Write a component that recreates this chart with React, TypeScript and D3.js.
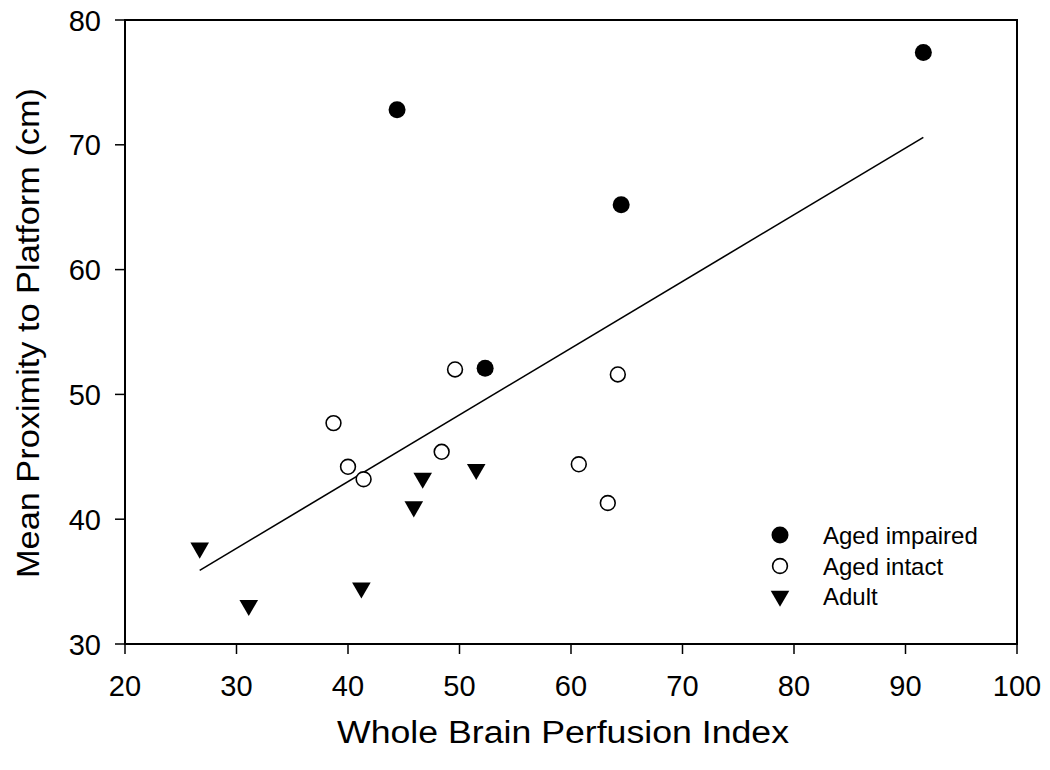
import React from "react";
import * as d3 from "d3";

const agedImpairedX = [44.4, 91.6, 64.5, 52.3];
const agedImpairedY = [72.8, 77.4, 65.2, 52.1];

const agedIntactX = [49.6, 38.7, 40.0, 41.4, 48.4, 64.2, 60.7, 63.3];
const agedIntactY = [52.0, 47.7, 44.2, 43.2, 45.4, 51.6, 44.4, 41.3];

const adultX = [26.7, 31.1, 41.2, 45.9, 46.7, 51.5];
const adultY = [37.7, 33.1, 34.5, 41.0, 43.3, 44.0];

const fitX = [26.7, 91.6];
const fitY = [35.9, 70.6];

const xTicks = [20, 30, 40, 50, 60, 70, 80, 90, 100];
const yTicks = [30, 40, 50, 60, 70, 80];

const legendLabels = ["Aged impaired", "Aged intact", "Adult"];

const W = 1050;
const H = 770;
const L = 125, R = 1017, T = 20, B = 644;
const FONT = "Arial, 'Liberation Sans', Helvetica, sans-serif";

export default function App() {
  const x = d3.scaleLinear().domain([20, 100]).range([L, R]);
  const y = d3.scaleLinear().domain([30, 80]).range([B, T]);
  const tri = d3.symbol().type(d3.symbolTriangle).size(150)() as string;
  const line = d3
    .line<number>()
    .x((d) => x(d))
    .y((_, i) => y(fitY[i]));

  const legX = 780;
  const legY = [535, 566, 596];

  return (
    <svg
      width={W}
      height={H}
      style={{ position: "absolute", left: 0, top: 0, background: "#fff" }}
      fontFamily={FONT}
    >
      <rect x={0} y={0} width={W} height={H} fill="#fff" />
      {/* frame */}
      <rect x={L} y={T} width={R - L} height={B - T} fill="none" stroke="#000" strokeWidth={2} />
      {/* x ticks */}
      {xTicks.map((t) => (
        <g key={"xt" + t}>
          <line x1={x(t)} x2={x(t)} y1={B} y2={B + 10} stroke="#000" strokeWidth={1.5} />
          <text x={x(t)} y={B + 52} textAnchor="middle" fontSize={29}>
            {t}
          </text>
        </g>
      ))}
      {yTicks.map((t) => (
        <g key={"yt" + t}>
          <line x1={L - 10} x2={L} y1={y(t)} y2={y(t)} stroke="#000" strokeWidth={1.5} />
          <text x={L - 24} y={y(t) + 10.5} textAnchor="end" fontSize={29}>
            {t}
          </text>
        </g>
      ))}
      <text
        x={(L + R) / 2 - 8}
        y={743}
        textAnchor="middle"
        fontSize={31}
        textLength={452}
        lengthAdjust="spacingAndGlyphs"
      >
        Whole Brain Perfusion Index
      </text>
      <text
        transform={`translate(39, ${(T + B) / 2 + 1}) rotate(-90)`}
        textAnchor="middle"
        fontSize={32}
        textLength={490}
        lengthAdjust="spacingAndGlyphs"
      >
        Mean Proximity to Platform (cm)
      </text>

      {/* regression line */}
      <path d={line(fitX) || ""} fill="none" stroke="#000" strokeWidth={1.6} />

      {/* adult */}
      {adultX.map((v, i) => (
        <path
          key={"a" + i}
          d={tri}
          transform={`translate(${x(v)},${y(adultY[i])}) rotate(180)`}
          fill="#000"
        />
      ))}
      {/* aged intact */}
      {agedIntactX.map((v, i) => (
        <circle key={"o" + i} cx={x(v)} cy={y(agedIntactY[i])} r={7.4} fill="#fff" stroke="#000" strokeWidth={1.6} />
      ))}
      {/* aged impaired */}
      {agedImpairedX.map((v, i) => (
        <circle key={"f" + i} cx={x(v)} cy={y(agedImpairedY[i])} r={8.5} fill="#000" />
      ))}

      {/* legend */}
      <circle cx={legX} cy={legY[0]} r={8.5} fill="#000" />
      <circle cx={legX} cy={legY[1]} r={7.4} fill="#fff" stroke="#000" strokeWidth={1.6} />
      <path d={tri} transform={`translate(${legX},${legY[2]}) rotate(180)`} fill="#000" />
      {legendLabels.map((l, i) => (
        <text key={l} x={823} y={legY[i] + 8.5} fontSize={24}>
          {l}
        </text>
      ))}
    </svg>
  );
}
